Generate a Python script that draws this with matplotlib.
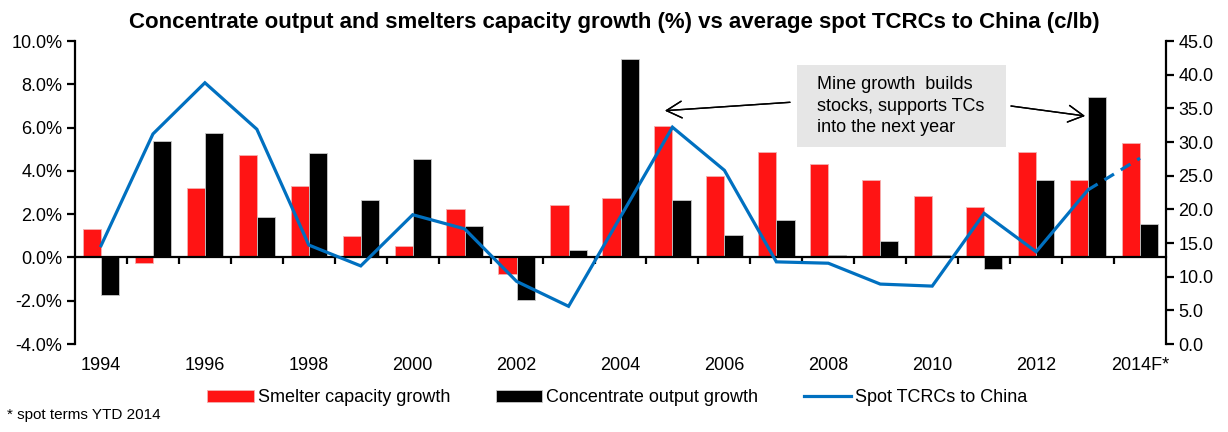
import matplotlib
matplotlib.use("Agg")
import matplotlib.pyplot as plt
from matplotlib.patches import Rectangle
import numpy as np

# Concentrate output / smelter capacity growth vs spot TCRCs to China

plt.rcParams['font.family'] = ['Liberation Sans', 'DejaVu Sans']

years = [str(y) for y in range(1994, 2014)] + ["2014F*"]
smelter_growth = [1.31, -0.26, 3.23, 4.73, 3.31, 0.99, 0.51, 2.25, -0.77, 2.42,
                  2.74, 6.09, 3.78, 4.88, 4.33, 3.60, 2.82, 2.34, 4.88, 3.60, 5.27]
conc_growth = [-1.72, 5.36, 5.76, 1.87, 4.82, 2.67, 4.56, 1.46, -1.95, 0.36,
               9.18, 2.67, 1.06, 1.71, 0.09, 0.76, 0.09, -0.52, 3.60, 7.43, 1.54]
spot_tcrc = [14.6, 31.2, 38.8, 31.9, 14.7, 11.6, 19.2, 17.1, 9.3, 5.6,
             18.9, 32.2, 25.8, 12.2, 12.0, 8.9, 8.6, 19.4, 13.7, 22.9, 27.6]

RED = '#FF1414'
BLUE = '#0070C0'

x = np.arange(len(years))
w = 0.35

fig = plt.figure(figsize=(12.28, 4.32), dpi=100)
ax = fig.add_axes([0.0611, 0.2037, 0.8884, 0.7013])
ax2 = ax.twinx()

ax.bar(x - w / 2, smelter_growth, w, color=RED, edgecolor='#f4b0b0', linewidth=0.6,
       label="Smelter capacity growth", zorder=2)
ax.bar(x + w / 2, conc_growth, w, color='black', edgecolor='#c8c8c8', linewidth=0.6,
       label="Concentrate output growth", zorder=2)

# solid line up to 2013, dashed forecast segment for 2014
ax2.plot(x[:-1], spot_tcrc[:-1], color=BLUE, lw=2.3, solid_joinstyle='miter',
         label="Spot TCRCs to China")
ax2.plot(x[-2:], spot_tcrc[-2:], color=BLUE, lw=2.3, ls=(0, (3.5, 2.5)))

ax.set_xlim(-0.5, len(years) - 0.5)
ax.set_ylim(-4, 10)
ax.set_yticks(np.arange(-4, 10.1, 2))
ax.set_yticklabels([f"{v:.1f}%" for v in np.arange(-4, 10.1, 2)])
ax2.set_ylim(0, 45)
ax2.set_yticks(np.arange(0, 45.1, 5))
ax2.set_yticklabels([f"{v:.1f}" for v in np.arange(0, 45.1, 5)])

for a in (ax, ax2):
    a.spines['top'].set_visible(False)
    for s in a.spines.values():
        s.set_linewidth(1.6)
ax2.spines['bottom'].set_visible(False)
ax2.spines['left'].set_visible(False)
ax.spines['right'].set_visible(False)
ax.spines['bottom'].set_position(('data', 0))
ax.spines['bottom'].set_zorder(3)

ax.tick_params(axis='y', direction='out', length=6, width=1.6, labelsize=13, pad=3)
ax2.tick_params(axis='y', direction='out', length=6, width=1.6, labelsize=13, pad=3)
ax.set_xticks(x[:-1] + 0.5)
ax.set_xticklabels([])
ax.tick_params(axis='x', direction='out', length=5, width=1.6)

# year labels every other category, at the bottom of the plot
for i in range(0, len(years), 2):
    ax.text(x[i], -0.07, years[i], transform=ax.get_xaxis_transform(),
            ha='center', va='center', fontsize=13)

ax.set_zorder(ax2.get_zorder() - 1)
ax.patch.set_visible(False)
ax2.patch.set_visible(False)

fig.text(0.5, 0.949, "Concentrate output and smelters capacity growth (%) vs average spot TCRCs to China (c/lb)",
         ha='center', va='center', fontsize=16, fontweight='bold')

# annotation box and arrows
fig.patches.append(Rectangle((0.6488, 0.6604), 0.1704, 0.189, transform=fig.transFigure,
                             facecolor='#E6E6E6', edgecolor='none', zorder=5))
fig.text(0.665, 0.7546, "Mine growth  builds\nstocks, supports TCs\ninto the next year",
         ha='left', va='center', fontsize=13, linespacing=1.34, zorder=6)
arrow = dict(arrowstyle='->,head_length=0.55,head_width=0.3', color='black', lw=1.0,
             mutation_scale=20, shrinkA=0, shrinkB=0)
fig.add_artist(plt.annotate("", xy=(0.5415, 0.7438), xytext=(0.6433, 0.7632),
                            xycoords='figure fraction', arrowprops=arrow))
fig.add_artist(plt.annotate("", xy=(0.8836, 0.7315), xytext=(0.8233, 0.7546),
                            xycoords='figure fraction', arrowprops=arrow))

h1, l1 = ax.get_legend_handles_labels()
h2, l2 = ax2.get_legend_handles_labels()
fig.legend(h1 + h2, l1 + l2, loc='center', bbox_to_anchor=(0.5024, 0.079), ncol=3,
           frameon=False, fontsize=13, handlelength=2.6, handleheight=0.67,
           columnspacing=2.5, handletextpad=0.22)

fig.text(0.006, 0.04, "* spot terms YTD 2014", ha='left', va='center', fontsize=11)

fig.savefig("out.png", dpi=100)
